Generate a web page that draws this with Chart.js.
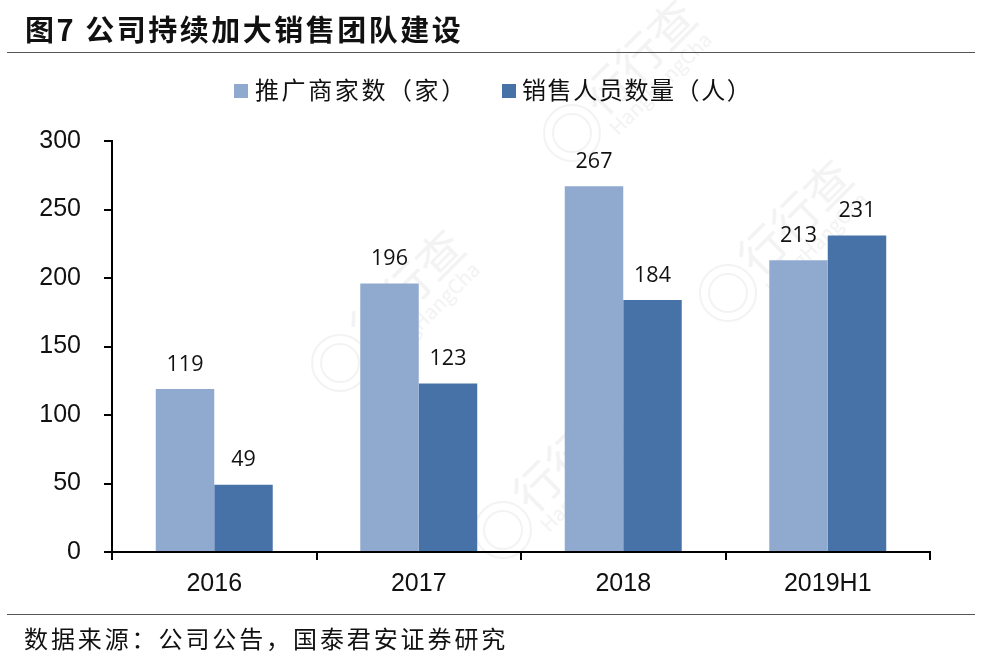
<!DOCTYPE html>
<html><head><meta charset="utf-8">
<script src="https://cdn.jsdelivr.net/npm/chart.js@4"></script>
<style>
html,body{margin:0;padding:0;background:#fff;}
#wrap{position:relative;width:982px;height:664px;overflow:hidden;font-family:"Noto Sans CJK SC",sans-serif;color:#111;}
canvas{position:absolute;left:0;top:0;}
.t{position:absolute;white-space:nowrap;line-height:1;}
.rule{position:absolute;left:7px;width:968px;height:1px;background:#555;}
.sq{position:absolute;width:14px;height:14px;top:84px;}
.wm{position:absolute;white-space:nowrap;color:#f3f3f3;line-height:1;transform:translate(-50%,-50%) rotate(-45deg);}
.wmc{position:absolute;border:2px solid #f3f3f3;border-radius:50%;transform:translate(-50%,-50%);}
</style></head><body>
<div id="wrap">
<div id="wms"></div>
<canvas id="c" width="982" height="664"></canvas>
<div class="t" id="title" style="left:25px;top:14px;font-size:29px;font-weight:700;letter-spacing:2.5px;"></div>
<div class="rule" style="top:52px;"></div>
<div class="sq" id="s0" style="left:234px;"></div><div class="t" id="l0" style="left:255px;top:77px;font-size:24px;letter-spacing:2.6px;"></div>
<div class="sq" id="s1" style="left:502px;"></div><div class="t" id="l1" style="left:522px;top:77px;font-size:24px;letter-spacing:1.6px;"></div>
<div class="rule" style="top:614px;"></div>
<div class="t" id="src" style="left:24px;top:626px;font-size:24px;letter-spacing:2.9px;"></div>
</div>
<script>
const titleText = "图7 公司持续加大销售团队建设";
const sourceText = "数据来源：公司公告，国泰君安证券研究";
const categories = ["2016", "2017", "2018", "2019H1"];
const seriesNames = ["推广商家数（家）", "销售人员数量（人）"];
const merchants = [119, 196, 267, 213];
const salesStaff = [49, 123, 184, 231];
const yTicks = [0, 50, 100, 150, 200, 250, 300];
const seriesColors = ["#8FA9CF", "#4672A8"];

document.getElementById("title").textContent = titleText;
document.getElementById("src").textContent = sourceText;
seriesNames.forEach((n, i) => {
  document.getElementById("l" + i).textContent = n;
  document.getElementById("s" + i).style.background = seriesColors[i];
});

// faint watermarks: logo ring plus rotated text
const wmSpots = [[340,363],[572,133],[728,293],[503,530]];
const wmHost = document.getElementById("wms");
function addWm(cls, txt, x, y, size) {
  const e = document.createElement("div");
  e.className = cls;
  e.style.left = x + "px"; e.style.top = y + "px";
  if (txt) { e.textContent = txt; e.style.fontSize = size + "px"; }
  else { e.style.width = size + "px"; e.style.height = size + "px"; }
  wmHost.appendChild(e);
}
wmSpots.forEach(([x, y]) => {
  addWm("wmc", "", x, y, 54);
  addWm("wmc", "", x, y, 36);
  addWm("wm", "行行查", x + 65, y - 78, 46);
  addWm("wm", "HangHangCha", x + 88, y - 50, 20);
});

const valueLabels = {
  id: "valueLabels",
  afterDatasetsDraw(chart) {
    const ctx = chart.ctx;
    ctx.save();
    ctx.font = '21.5px "Open Sans"';
    ctx.fillStyle = "#111";
    ctx.textAlign = "center";
    ctx.textBaseline = "middle";
    chart.data.datasets.forEach((ds, i) => {
      chart.getDatasetMeta(i).data.forEach((bar, j) => {
        ctx.fillText(String(ds.data[j]), bar.x, bar.y - 24.5);
      });
    });
    ctx.restore();
  }
};

new Chart(document.getElementById("c"), {
  type: "bar",
  data: {
    labels: categories,
    datasets: [
      { label: seriesNames[0], data: merchants, backgroundColor: seriesColors[0] },
      { label: seriesNames[1], data: salesStaff, backgroundColor: seriesColors[1] }
    ]
  },
  plugins: [valueLabels],
  options: {
    responsive: false,
    animation: false,
    devicePixelRatio: 1,
    layout: { padding: { left: 0, top: 141, right: 52, bottom: 0 } },
    datasets: { bar: { categoryPercentage: 0.572, barPercentage: 1 } },
    plugins: { legend: { display: false }, title: { display: false }, tooltip: { enabled: false } },
    scales: {
      x: {
        afterFit(s) { s.height = 112; },
        border: { color: "#000", width: 2 },
        grid: { display: true, drawOnChartArea: false, drawTicks: true, tickLength: 8, color: "#000", lineWidth: 2 },
        ticks: { color: "#111", padding: 9, maxRotation: 0, font: { family: '"Liberation Sans"', size: 25 } }
      },
      y: {
        min: 0, max: 300,
        afterFit(s) { s.width = 112; },
        afterBuildTicks(s) { s.ticks = yTicks.map(v => ({ value: v })); },
        border: { color: "#000", width: 2 },
        grid: { display: true, drawOnChartArea: false, drawTicks: true, tickLength: 8, color: "#000", lineWidth: 2 },
        ticks: { color: "#111", padding: 23, font: { family: '"Liberation Sans"', size: 25 } }
      }
    }
  }
});
</script>
</body></html>
